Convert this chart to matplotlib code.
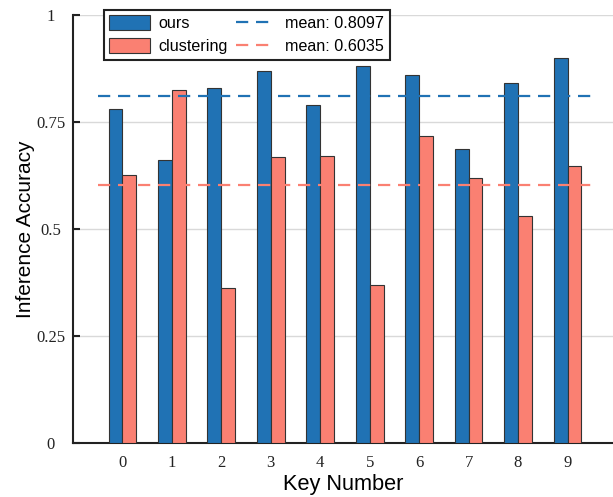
import numpy as np
import matplotlib
matplotlib.use("Agg")
import matplotlib.pyplot as plt

keys = np.arange(10)
key_labels = [str(k) for k in keys]
acc_ours = [0.780, 0.661, 0.829, 0.869, 0.790, 0.880, 0.860, 0.688, 0.840, 0.900]
acc_clustering = [0.625, 0.825, 0.362, 0.668, 0.670, 0.370, 0.718, 0.620, 0.530, 0.647]

BLUE = "#2072b4"
SALMON = "#fa8072"
SANS = "Liberation Sans"
SERIF = "Liberation Serif"

fig = plt.figure(figsize=(6.13, 4.97), dpi=100)
ax = fig.add_axes([0.119, 0.1087, 0.881, 0.8612])

w = 0.28
ax.bar(keys - w / 2, acc_ours, width=w, color=BLUE, edgecolor="#333333", linewidth=0.8,
       label="ours", zorder=3)
ax.bar(keys + w / 2, acc_clustering, width=w, color=SALMON, edgecolor="#333333", linewidth=0.8,
       label="clustering", zorder=3)

m_ours = np.mean(acc_ours)
m_clu = np.mean(acc_clustering)
ax.plot([-0.5, 9.5], [m_ours, m_ours], color=BLUE, lw=1.6, dashes=(5.5, 3.5),
        label=f"mean: {m_ours + 1e-9:.4f}", zorder=4)
ax.plot([-0.5, 9.5], [m_clu, m_clu], color=SALMON, lw=1.6, dashes=(5.5, 3.5),
        label=f"mean: {m_clu + 1e-9:.4f}", zorder=4)

ax.set_xlim(-1, 9.92)
ax.set_ylim(0, 1)
ax.set_yticks([0, 0.25, 0.5, 0.75, 1])
ax.set_yticklabels(["0", "0.25", "0.5", "0.75", "1"])
ax.set_xticks(keys)
ax.set_xticklabels(key_labels)
ax.yaxis.grid(True, color="#d9d9d9", lw=1.0, zorder=0)
ax.set_axisbelow(True)

for s in ["top", "right"]:
    ax.spines[s].set_visible(False)
for s in ["left", "bottom"]:
    ax.spines[s].set_linewidth(1.5)
    ax.spines[s].set_color("#222222")

ax.tick_params(axis="y", direction="in", length=5, width=1.5, color="#222222", pad=16)
ax.tick_params(axis="x", length=0, pad=9)
for t in ax.get_yticklabels():
    t.set_fontfamily(SERIF)
    t.set_fontsize(12)
    t.set_horizontalalignment("center")
    t.set_color("#222222")
for t in ax.get_xticklabels():
    t.set_fontfamily(SERIF)
    t.set_fontsize(12)
    t.set_color("#222222")

ax.set_xlabel("Key Number", fontfamily=SANS, fontsize=15.7, labelpad=2)
ax.set_ylabel("Inference Accuracy", fontfamily=SANS, fontsize=15, labelpad=1)

h, lab = ax.get_legend_handles_labels()
order = [2, 3, 0, 1]
leg = ax.legend([h[i] for i in order], [lab[i] for i in order], ncol=2,
                loc="upper left", bbox_to_anchor=(0.057, 1.012), borderaxespad=0,
                prop={"family": SANS, "size": 11.6}, fancybox=False, framealpha=1,
                edgecolor="#222222", handlelength=2.5, handleheight=1.0,
                handletextpad=0.55, columnspacing=0.5, labelspacing=0.45, borderpad=0.35)
leg.get_frame().set_linewidth(1.5)
leg.set_zorder(10)

fig.savefig("out.png", dpi=100)
